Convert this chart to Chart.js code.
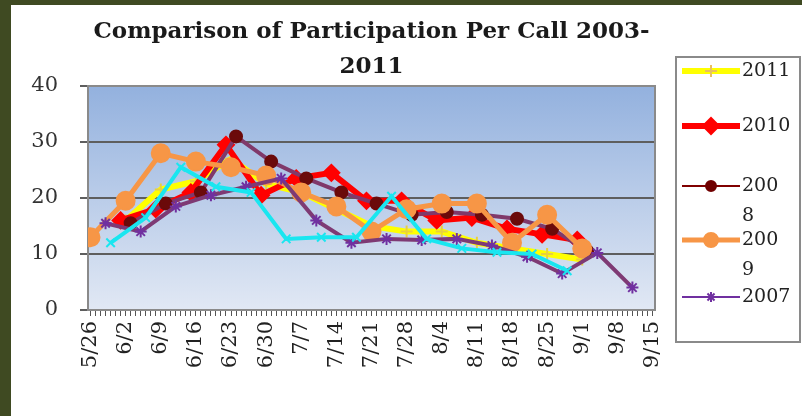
<!DOCTYPE html>
<html>
<head>
<meta charset="utf-8">
<script src="https://cdn.jsdelivr.net/npm/chart.js@4"></script>
<style>
  body { margin: 0; background: #3f4a22; width: 802px; height: 416px; overflow: hidden; }
  .frame { position: absolute; left: 11px; top: 5px; width: 791px; height: 411px; background: #fff; }
</style>
</head>
<body>
<div class="frame"><canvas id="callChart"></canvas></div>
<script>
// weekly tick labels on the date axis
const tickLabels = ['5/26','6/2','6/9','6/16','6/23','6/30','7/7','7/14','7/21','7/28','8/4','8/11','8/18','8/25','9/1','9/8','9/15'];

const dates2011 = ['6/2','6/9','6/16','6/23','6/30','7/7','7/14','7/21','7/28','8/4','8/11','8/18','8/25','9/1'];
const values2011 = [16, 21.5, 23, 27, 22.5, 21, 18, 15, 14, 14, 12, 11, 10, 9];

const dates2010 = ['6/1','6/8','6/15','6/22','6/29','7/6','7/13','7/20','7/27','8/3','8/10','8/17','8/24','8/31'];
const values2010 = [16, 18, 21, 29.5, 20.5, 23.5, 24.5, 19.5, 19.5, 16, 16.5, 14.5, 13.5, 12.5];

const dates2008 = ['6/3','6/10','6/17','6/24','7/1','7/8','7/15','7/22','7/29','8/5','8/12','8/19','8/26','9/2'];
const values2008 = [15.5, 19, 21, 31, 26.5, 23.5, 21, 19, 17, 17.5, 17, 16.3, 14.5, 10.5];

const dates2009 = ['5/26','6/2','6/9','6/16','6/23','6/30','7/7','7/14','7/21','7/28','8/4','8/11','8/18','8/25','9/1'];
const values2009 = [13, 19.5, 28, 26.5, 25.5, 24, 21, 18.5, 14, 18, 19, 19, 12, 17, 11];

const dates2007 = ['5/29','6/5','6/12','6/19','6/26','7/3','7/10','7/17','7/24','7/31','8/7','8/14','8/21','8/28','9/4','9/11'];
const values2007 = [15.5, 14, 18.5, 20.5, 22, 23.5, 16, 12, 12.7, 12.5, 12.7, 11.5, 9.5, 6.5, 10.2, 4];

const dates2006 = ['5/30','6/6','6/13','6/20','6/27','7/4','7/11','7/18','7/25','8/1','8/8','8/15','8/22','8/29'];
const values2006 = [12, 16.5, 25.5, 22, 21, 12.7, 13, 13, 20.3, 12.7, 11, 10.3, 10, 7];

// legend text as it wraps in the original box
const legendLines = [['2011'], ['2010'], ['200', '8'], ['200', '9'], ['2007']];

const dayOf = (md) => {
    const [m, d] = md.split('/').map(Number);
    return Math.round((Date.UTC(2011, m - 1, d) - Date.UTC(2011, 4, 26)) / 86400000);
};
const points = (dates, values) => dates.map((d, i) => ({x: dayOf(d), y: values[i]}));

const tickByDay = {};
tickLabels.forEach(t => { tickByDay[dayOf(t)] = t; });
const lastDay = dayOf(tickLabels[tickLabels.length - 1]);

const serif = "'DejaVu Serif', 'Liberation Serif', serif";

const plotBackground = {
    id: 'plotBackground',
    beforeDraw(chart) {
        const {ctx, chartArea: a} = chart;
        const g = ctx.createLinearGradient(0, a.top, 0, a.bottom);
        g.addColorStop(0, '#93b1de');
        g.addColorStop(1, '#e1e8f4');
        ctx.save();
        ctx.fillStyle = g;
        ctx.fillRect(a.left, a.top, a.right - a.left, a.bottom - a.top);
        ctx.restore();
    },
    beforeDatasetsDraw(chart) {
        const {ctx, chartArea: a} = chart;
        ctx.save();
        ctx.strokeStyle = '#8a8a8a';
        ctx.lineWidth = 2;
        ctx.strokeRect(a.left, a.top, a.right - a.left, a.bottom - a.top);
        ctx.restore();
    }
};

// legend drawn as a box on the right, five rows like the original
const legendSamples = [
    {color: '#ffff00', width: 6, style: 'cross', pointColor: '#e8c060', radius: 6},
    {color: '#ff0000', width: 6, style: 'rectRot', pointColor: '#ff0000', radius: 8},
    {color: '#800000', width: 2, style: 'circle', pointColor: '#700000', radius: 5},
    {color: '#f79646', width: 5, style: 'circle', pointColor: '#f79646', radius: 7},
    {color: '#7030a0', width: 2, style: 'star', pointColor: '#7030a0', radius: 5}
];
const boxLegend = {
    id: 'boxLegend',
    afterDraw(chart) {
        const {ctx} = chart;
        const left = 665, top = 52, right = 789, bottom = 337;
        const rowY = [66, 121, 181, 235, 292];
        ctx.save();
        ctx.fillStyle = '#fff';
        ctx.fillRect(left, top, right - left, bottom - top);
        ctx.strokeStyle = '#8a8a8a';
        ctx.lineWidth = 2;
        ctx.strokeRect(left, top, right - left, bottom - top);
        legendSamples.forEach((s, i) => {
            const y = rowY[i];
            ctx.strokeStyle = s.color;
            ctx.lineWidth = s.width;
            ctx.beginPath();
            ctx.moveTo(671, y);
            ctx.lineTo(729, y);
            ctx.stroke();
            ctx.fillStyle = s.pointColor;
            ctx.strokeStyle = s.pointColor;
            ctx.lineWidth = 2;
            Chart.helpers.drawPoint(ctx, {pointStyle: s.style, radius: s.radius, borderWidth: 2, rotation: 0}, 700, y);
            ctx.fillStyle = '#222';
            ctx.font = `19px ${serif}`;
            ctx.textBaseline = 'middle';
            legendLines[i].forEach((line, j) => ctx.fillText(line, 731, y + j * 30));
        });
        ctx.restore();
    }
};

const line = (label, dates, values, color, width, style, pointColor, radius, order) => ({
    label,
    data: points(dates, values),
    borderColor: color,
    borderWidth: width,
    pointStyle: style,
    pointRadius: radius,
    pointBackgroundColor: pointColor,
    pointBorderColor: pointColor,
    pointBorderWidth: 2,
    order
});

new Chart(document.getElementById('callChart'), {
    type: 'line',
    data: {
        datasets: [
            line('2011', dates2011, values2011, '#ffff00', 6, 'cross', '#e8d040', 6, 6),
            line('2010', dates2010, values2010, '#ff0000', 6, 'rectRot', '#ff0000', 8, 5),
            line('2008', dates2008, values2008, '#80396a', 4, 'circle', '#6b0a0a', 6, 4),
            line('2009', dates2009, values2009, '#f79646', 5, 'circle', '#f79646', 9, 3),
            line('2007', dates2007, values2007, '#7e3a74', 4, 'star', '#7030a0', 6, 2),
            line('2006', dates2006, values2006, '#19e6f0', 4, 'crossRot', '#19e6f0', 6, 1)
        ]
    },
    options: {
        responsive: true,
        maintainAspectRatio: false,
        animation: false,
        layout: { padding: { right: 147, left: 0, top: 0, bottom: 0 } },
        plugins: {
            legend: { display: false },
            tooltip: { enabled: false },
            title: {
                display: true,
                fullSize: false,
                text: ['Comparison of Participation Per Call 2003-', '2011'],
                color: '#1a1a1a',
                font: { family: serif, size: 23, weight: 'bold', lineHeight: 1.5 },
                padding: { top: 10, bottom: 2 }
            }
        },
        scales: {
            x: {
                type: 'linear',
                min: -0.5,
                max: lastDay + 0.5,
                afterBuildTicks: (scale) => {
                    const ticks = [];
                    for (let d = 0; d <= lastDay; d++) ticks.push({value: d});
                    scale.ticks = ticks;
                },
                afterFit: (scale) => { scale.height = 106; },
                grid: { drawOnChartArea: false, tickLength: 6, color: '#555' },
                border: { color: '#666', width: 2 },
                ticks: {
                    autoSkip: false,
                    minRotation: 90,
                    maxRotation: 90,
                    padding: 5,
                    color: '#222',
                    font: { family: serif, size: 21 },
                    callback: (value) => tickByDay[value] || ''
                }
            },
            y: {
                min: 0,
                max: 40,
                afterFit: (scale) => { scale.width = 77; },
                grid: { color: '#5e5e5e', lineWidth: 2, tickLength: 8 },
                border: { color: '#777', width: 2 },
                ticks: {
                    stepSize: 10,
                    padding: 22,
                    color: '#333',
                    font: { family: serif, size: 21 }
                }
            }
        }
    },
    plugins: [plotBackground, boxLegend]
});
</script>
</body>
</html>
